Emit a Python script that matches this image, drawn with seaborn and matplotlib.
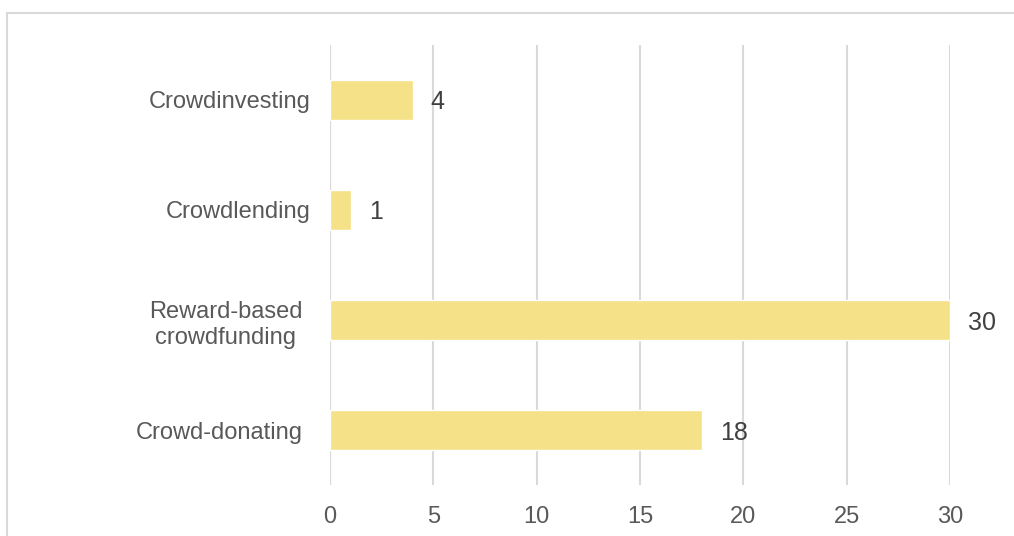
import matplotlib
matplotlib.use("Agg")
import matplotlib.pyplot as plt
import matplotlib.transforms as mtransforms
import seaborn as sns
import pandas as pd
from matplotlib.patches import Rectangle

categories = ["Crowdinvesting", "Crowdlending", "Reward-based\ncrowdfunding", "Crowd-donating"]
values = [4, 1, 30, 18]
xticks = [0, 5, 10, 15, 20, 25, 30]

sns.set_theme(style="white")
plt.rcParams['font.family'] = ['Liberation Sans', 'DejaVu Sans']

df = pd.DataFrame({"category": categories, "value": values})

fig = plt.figure(figsize=(10.14, 5.36), dpi=100)
ax = fig.add_axes([330/1014, 1-485/536, 620/1014, 440/536])

sns.barplot(data=df, y="category", x="value", orient="h", color="#F5E187",
            saturation=1, width=0.36, ax=ax, zorder=3)

ax.set_xlim(0, 30)
ax.set_ylim(3.5, -0.5)
ax.set_xticks(xticks)
ax.set_xticklabels([str(t) for t in xticks])
ax.set_xlabel("")
ax.set_ylabel("")
for s in ax.spines.values():
    s.set_visible(False)
ax.grid(axis="x", color="#D9D9D9", linewidth=1.5, zorder=0)
ax.grid(axis="y", visible=False)
ax.axvline(0, color="#D9D9D9", linewidth=1.5, zorder=1)
ax.tick_params(axis="x", length=0, pad=15, labelsize=17, labelcolor="#595959")
ax.tick_params(axis="y", length=0, pad=14, labelsize=17, labelcolor="#595959")
shift = mtransforms.ScaledTranslation(-8/100, 0, fig.dpi_scale_trans)
for i, lbl in enumerate(ax.get_yticklabels()):
    lbl.set_multialignment("center")
    lbl.set_linespacing(1.25)
    if i >= 2:
        lbl.set_transform(lbl.get_transform() + shift)

for i, v in enumerate(values):
    ax.annotate(str(v), xy=(v, i), xytext=(13, 0), textcoords="offset points",
                ha="left", va="center_baseline", fontsize=18, color="#404040",
                annotation_clip=False)

fig.patches.append(Rectangle((7/1014, -0.1), 1.1, 1-13/536+0.1, transform=fig.transFigure,
                             fill=False, edgecolor="#D9D9D9", linewidth=1.5))

fig.savefig("out.png", dpi=100)
